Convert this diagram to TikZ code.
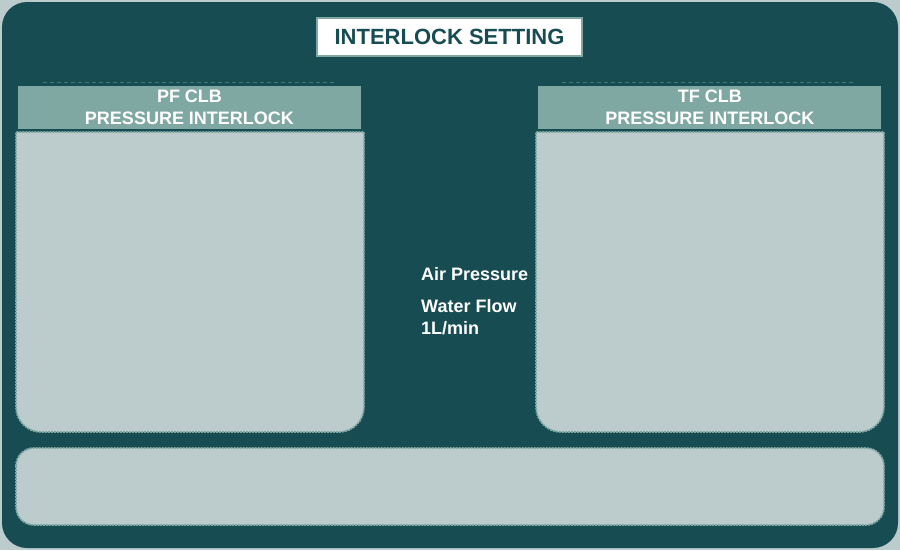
\documentclass[tikz,border=0pt]{standalone}
\usepackage{fontspec}
\setmainfont{Liberation Sans}
\usetikzlibrary{positioning}
\definecolor{colorFrame}{HTML}{184C53}
\definecolor{colorHeader}{HTML}{7FA8A2}
\definecolor{colorPanel}{HTML}{BCCBCB}
\tikzset{
  header/.style={fill=colorHeader, text=white, font=\bfseries\fontsize{18}{22}\selectfont, align=center, minimum width=343pt, minimum height=43pt, inner sep=0pt},
  panel/.style={fill=colorPanel, draw=colorHeader, line width=1.8pt, dash pattern=on 2pt off 1pt},
  label/.style={text=white, font=\bfseries\fontsize{18}{22}\selectfont, align=left, anchor=west, inner sep=0pt},
  rule/.style={draw=colorHeader!45!colorFrame, line width=0.8pt, dash pattern=on 4pt off 3pt}
}
\begin{document}
\begin{tikzpicture}[x=1pt, y=-1pt]
\useasboundingbox (0,0) rectangle (900,550);
\fill[colorPanel] (0,0) rectangle (900,550);
\fill[colorFrame, rounded corners=25pt] (2,2) rectangle (898,548);
\node[fill=white, draw=colorHeader, line width=2.5pt, text=colorFrame, font=\bfseries\fontsize{22}{26}\selectfont, minimum width=265pt, minimum height=38pt, inner sep=0pt] (title) at (449.5,37) {INTERLOCK SETTING};
% PF side
\draw[rule] (43,82) -- (335,82);
\path[panel, rounded corners=25pt] (16,300) -- (16,432) -- (364,432) -- (364,300) [sharp corners] -- (364,132) -- (16,132) -- cycle;
\node[header] (hPF) at (189.5,107.5) {PF CLB\\PRESSURE INTERLOCK};
% TF side
\draw[rule] (562,82) -- (855,82);
\path[panel, rounded corners=25pt] (536,300) -- (536,432) -- (884,432) -- (884,300) [sharp corners] -- (884,132) -- (536,132) -- cycle;
\node[header, right=177pt of hPF] (hTF) {TF CLB\\PRESSURE INTERLOCK};
% bottom
\path[panel, rounded corners=18pt] (16,448) rectangle (884,525);
\node[label] (air) at (421,274) {Air Pressure};
\node[label] (water) at (421,317) {Water Flow\\1L/min};
\end{tikzpicture}
\end{document}
